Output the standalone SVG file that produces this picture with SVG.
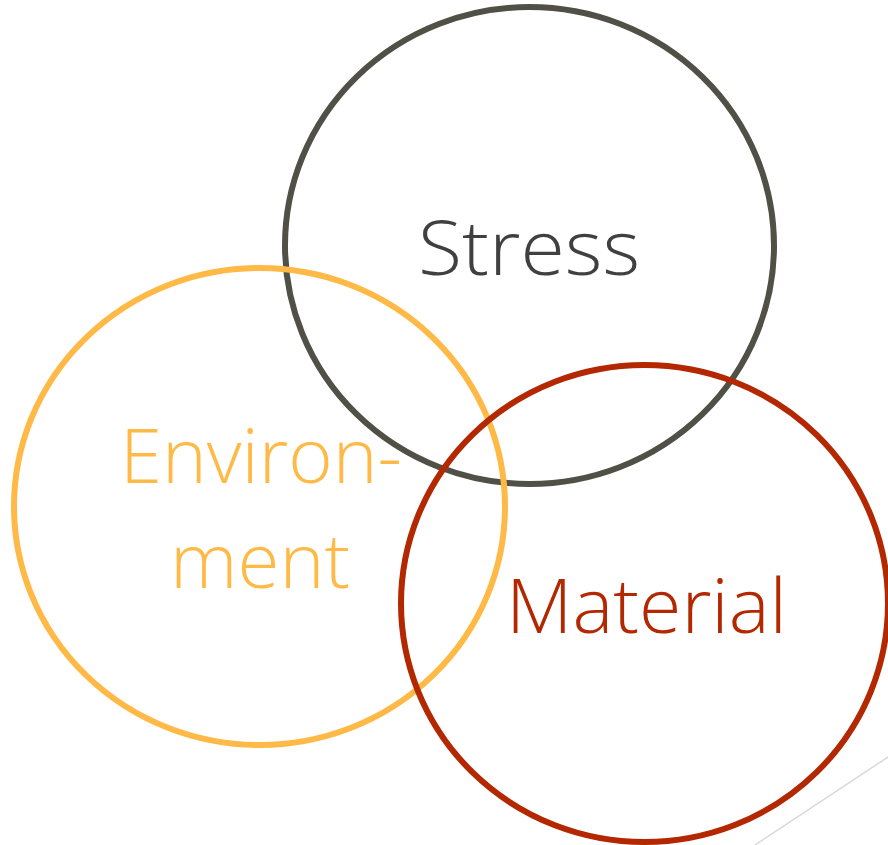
<svg xmlns="http://www.w3.org/2000/svg" width="888" height="845" viewBox="0 0 888 845">
<style>
.c{fill:none;stroke-width:6}
.t{font-family:"Open Sans",Lato,"Liberation Sans",sans-serif;font-weight:300;font-size:76px}
</style>
<rect width="888" height="845" fill="#fff"/>
<g id="connectors">
<line x1="755" y1="845" x2="888" y2="757" stroke="#d9d9d9" stroke-width="1.5"/>
</g>
<g id="stress">
<ellipse class="c" cx="529.5" cy="245.5" rx="244.5" ry="238.5" stroke="#505046"/>
<text class="t" x="418" y="275" fill="#404040" textLength="222" lengthAdjust="spacingAndGlyphs">Stress</text>
</g>
<g id="environment">
<ellipse class="c" cx="259.5" cy="506.5" rx="245.5" ry="238.5" stroke="#ffb946"/>
<text class="t" x="120" y="483" fill="#ffb946" textLength="282" lengthAdjust="spacingAndGlyphs">Environ-</text>
<text class="t" x="170" y="588" fill="#ffb946" textLength="180" lengthAdjust="spacingAndGlyphs">ment</text>
</g>
<g id="material">
<ellipse class="c" cx="644.5" cy="603.5" rx="243.5" ry="238.5" stroke="#b32800"/>
<text class="t" x="506" y="633" fill="#b32800" textLength="281" lengthAdjust="spacingAndGlyphs">Material</text>
</g>
</svg>
